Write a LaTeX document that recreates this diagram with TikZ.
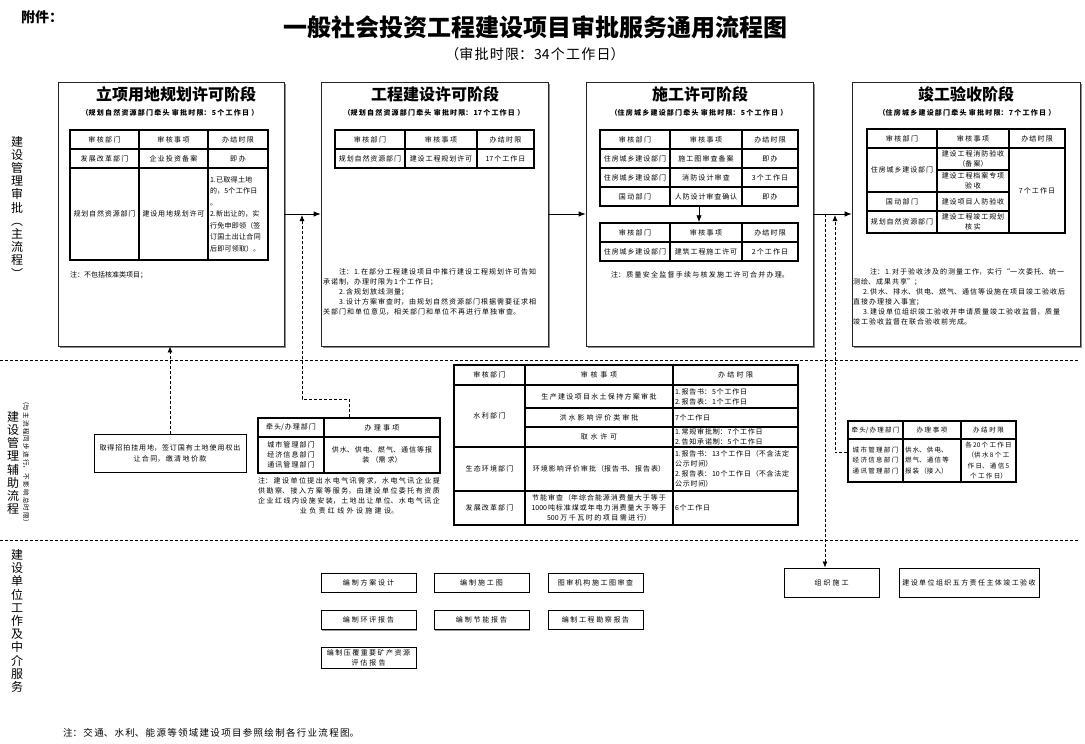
\documentclass[tikz,border=0pt]{standalone}
\usepackage{fontspec}
\setmainfont{Noto Sans CJK SC}
\usepackage{tikz}
\usetikzlibrary{arrows.meta,shadows,fit}
\XeTeXlinebreaklocale "zh"
\XeTeXlinebreakskip=0pt plus 1pt

\newcommand{\cellfont}{\fontsize{7}{10}\selectfont\XeTeXlinebreakskip=0.8pt plus 0.5pt\relax}
\newcommand{\smallcellfont}{\fontsize{6.5}{10.2}\selectfont\XeTeXlinebreakskip=1.2pt plus 0.5pt\relax}
\newcommand{\notefont}{\fontsize{7}{10}\selectfont\XeTeXlinebreakskip=1pt plus 0.3pt\relax}
\newcommand{\spacedfont}{\fontsize{7}{10}\selectfont\XeTeXlinebreakskip=1.4pt plus 0.3pt\relax}
\newcommand{\landboxfont}{\fontsize{7}{11}\selectfont\XeTeXlinebreakskip=0.9pt plus 0.2pt\relax}
\newcommand{\subfont}{\fontsize{7}{9}\selectfont\bfseries\XeTeXlinebreakskip=0.9pt plus 0.2pt\relax}
\newcommand{\landfont}{\fontsize{7}{11.5}\selectfont\XeTeXlinebreakskip=0.3pt plus 0.2pt\relax}
\newcommand{\footfont}{\fontsize{9.5}{11}\selectfont\XeTeXlinebreakskip=1.3pt\relax}
\newcommand{\limitfont}{\fontsize{14}{16}\selectfont\XeTeXlinebreakskip=1.2pt\relax}
\newcommand{\sidefont}{\fontsize{6.5}{7}\selectfont\XeTeXlinebreakskip=1.3pt\relax}

\tikzset{
  stagebox/.style={draw=black!85, line width=0.8pt, fill=white,
    drop shadow={shadow xshift=1.5pt, shadow yshift=-1.5pt, fill=black!45, opacity=1}},
  stagetitle/.style={font=\fontsize{16}{18}\selectfont\bfseries, inner sep=0pt},
  stagesub/.style={font=\subfont, inner sep=0pt, text width=222pt, align=center},
  cell/.style={draw, line width=1.1pt, inner xsep=2pt, inner ysep=0.5pt, align=center, font=\cellfont},
  note/.style={font=\notefont, align=left, inner sep=0pt},
  auxbox/.style={draw, line width=0.9pt, fill=white, align=center, inner sep=2pt, font=\spacedfont,
    drop shadow={shadow xshift=1pt, shadow yshift=-1pt, fill=black!40, opacity=1}},
  workbox/.style={auxbox, minimum width=95pt, minimum height=19pt},
  lane/.style={densely dashed, line width=0.8pt},
  lanelabel/.style={font=\fontsize{12}{13.2}\selectfont, align=center, inner sep=0pt},
  mainarrow/.style={line width=0.8pt, -{Latex[length=7pt,width=5.5pt]}},
  auxarrow/.style={densely dashed, line width=0.8pt, -{Latex[length=6pt,width=5pt]}}
}

% table cell: [options]{name}{x1}{y1}{x2}{y2}{text}
\newcommand{\tcell}[7][]{%
  \pgfmathsetmacro{\cw}{#5-#3}%
  \pgfmathsetmacro{\ch}{#6-#4}%
  \pgfmathsetmacro{\tw}{#5-#3-4}%
  \node[cell, #1, minimum width=\cw pt, minimum height=\ch pt, text width=\tw pt] (#2) at ({(#3+#5)/2},{(#4+#6)/2}) {#7};%
}

\begin{document}
\begin{tikzpicture}[x=1pt, y=-1pt]
\useasboundingbox (0,0) rectangle (1085,744);
\fill[white] (0,0) rectangle (1085,744);

%%%%% Title %%%%%
\node[font=\fontsize{14}{16}\selectfont\bfseries] (annex) at (42,17) {附件：};
\node[font=\fontsize{24}{26}\selectfont\bfseries] (title) at (535,27) {一般社会投资工程建设项目审批服务通用流程图};
\node[font=\limitfont, text width=260pt, align=center] (limit) at (535,54) {（审批时限：34个工作日）};

%%%%% Lanes %%%%%
\draw[lane] (0,360) -- (1078,360);
\draw[lane] (0,540) -- (1078,540);
\node[lanelabel] (lane1) at (17,207) {建\\设\\管\\理\\审\\批\\︵\\主\\流\\程\\︶};
\node[lanelabel] (lane2) at (13,463) {建\\设\\管\\理\\辅\\助\\流\\程};
\node[font=\sidefont, text width=135pt, align=center, rotate=-90, inner sep=0pt] (lane2n) at (26,462) {（与主流程同步进行，不影响总时限）};
\node[lanelabel] (lane3) at (17,621) {建\\设\\单\\位\\工\\作\\及\\中\\介\\服\\务};

%%%%% Stage boxes %%%%%
\node[stagebox, minimum width=226pt, minimum height=264pt] (s1) at (171,214) {};
\node[stagebox, minimum width=227pt, minimum height=264pt] (s2) at (434.5,214) {};
\node[stagebox, minimum width=227pt, minimum height=264pt] (s3) at (699.5,214) {};
\node[stagebox, minimum width=228pt, minimum height=264pt] (s4) at (966,214) {};

\node[stagetitle] (s1t) at (176,94) {立项用地规划许可阶段};
\node[stagetitle] (s2t) at (435,94) {工程建设许可阶段};
\node[stagetitle] (s3t) at (700,94) {施工许可阶段};
\node[stagetitle] (s4t) at (966,94) {竣工验收阶段};
\node[stagesub] (s1s) at (170,113) {（规划自然资源部门牵头 审批时限：5个工作日 ）};
\node[stagesub] (s2s) at (434,113) {（规划自然资源部门牵头 审批时限：17个工作日 ）};
\node[stagesub] (s3s) at (699,113) {（住房城乡建设部门牵头 审批时限：5个工作日 ）};
\node[stagesub] (s4s) at (967,113) {（住房城乡建设部门牵头 审批时限：7个工作日 ）};

% stage 1
\tcell{ta11}{70}{130}{139}{149}{审核部门}
\tcell{ta12}{139}{130}{208}{149}{审核事项}
\tcell{ta13}{208}{130}{268}{149}{办结时限}
\tcell{ta21}{70}{149}{139}{168}{发展改革部门}
\tcell{ta22}{139}{149}{208}{168}{企业投资备案}
\tcell{ta23}{208}{149}{268}{168}{即办}
\tcell{ta31}{70}{168}{139}{260}{规划自然资源部门}
\tcell{ta32}{139}{168}{208}{260}{建设用地规划许可}
\tcell[align=left, font=\landfont]{ta33}{208}{168}{268}{260}{1.已取得土地\\的，5个工作日\\。\\2.新出让的，实\\行免申即领（签\\订国土出让合同\\后即可领取）。}
\node[note, anchor=west] (na) at (70,275) {注：不包括核准类项目；};

% stage 2
\tcell{tb11}{335}{130}{405}{149}{审核部门}
\tcell{tb12}{405}{130}{477}{149}{审核事项}
\tcell{tb13}{477}{130}{534}{149}{办结时限}
\tcell{tb21}{335}{149}{405}{168}{规划自然资源部门}
\tcell{tb22}{405}{149}{477}{168}{建设工程规划许可}
\tcell{tb23}{477}{149}{534}{168}{17个工作日}
\node[note, anchor=north west, text width=226pt] (nb) at (323,268) {\hspace*{16pt}注：1.在部分工程建设项目中推行建设工程规划许可告知\\承诺制，办理时限为1个工作日；\\\hspace*{16pt}2.含规划放线测量；\\\hspace*{16pt}3.设计方案审查时，由规划自然资源部门根据需要征求相\\关部门和单位意见，相关部门和单位不再进行单独审查。};

% stage 3
\tcell{tc11}{600}{130}{670}{149}{审核部门}
\tcell{tc12}{670}{130}{742}{149}{审核事项}
\tcell{tc13}{742}{130}{798}{149}{办结时限}
\tcell{tc21}{600}{149}{670}{168}{住房城乡建设部门}
\tcell{tc22}{670}{149}{742}{168}{施工图审查备案}
\tcell{tc23}{742}{149}{798}{168}{即办}
\tcell{tc31}{600}{168}{670}{187}{住房城乡建设部门}
\tcell{tc32}{670}{168}{742}{187}{消防设计审查}
\tcell{tc33}{742}{168}{798}{187}{3个工作日}
\tcell{tc41}{600}{187}{670}{206}{国动部门}
\tcell{tc42}{670}{187}{742}{206}{人防设计审查确认}
\tcell{tc43}{742}{187}{798}{206}{即办}
\tcell{td11}{600}{223}{670}{242}{审核部门}
\tcell{td12}{670}{223}{742}{242}{审核事项}
\tcell{td13}{742}{223}{798}{242}{办结时限}
\tcell{td21}{600}{242}{670}{261}{住房城乡建设部门}
\tcell{td22}{670}{242}{742}{261}{建筑工程施工许可}
\tcell{td23}{742}{242}{798}{261}{2个工作日}
\node[fit=(tc11)(tc43), inner sep=0pt] (tc) {};
\node[fit=(td11)(td23), inner sep=0pt] (td) {};
\draw[mainarrow] (tc.south) -- (td.north);
\node[note, text width=200pt, align=center] (nc) at (700,275) {注：质量安全监督手续与核发施工许可合并办理。};

% stage 4
\tcell{te11}{867}{129}{937}{148}{审核部门}
\tcell{te12}{937}{129}{1009}{148}{审核事项}
\tcell{te13}{1009}{129}{1065}{148}{办结时限}
\tcell{te21}{867}{148}{937}{192}{住房城乡建设部门}
\tcell{te22}{937}{148}{1009}{170}{建设工程消防验收\\（备案）}
\tcell{te32}{937}{170}{1009}{192}{建设工程档案专项\\验收}
\tcell{te41}{867}{192}{937}{211}{国动部门}
\tcell{te42}{937}{192}{1009}{211}{建设项目人防验收}
\tcell{te51}{867}{211}{937}{233}{规划自然资源部门}
\tcell{te52}{937}{211}{1009}{233}{建设工程竣工规划\\核实}
\tcell{te23}{1009}{148}{1065}{233}{7个工作日}
\node[note, anchor=north west, text width=226pt] (nd) at (853,268) {\hspace*{17pt}注：1.对于验收涉及的测量工作，实行“一次委托、统一\\测绘、成果共享”；\\\hspace*{10pt}2.供水、排水、供电、燃气、通信等设施在项目竣工验收后\\直接办理接入事宜；\\\hspace*{10pt}3.建设单位组织竣工验收并申请质量竣工验收监督，质量\\竣工验收监督在联合验收前完成。};

%%%%% Main flow %%%%%
\draw[mainarrow] (s1.east) -- (s2.west);
\draw[mainarrow] (s2.east) -- (s3.west);
\draw[mainarrow] (s3.east) -- (s4.west);
\coordinate (j12) at (302,214);
\coordinate (j34a) at (825,214);
\coordinate (j34b) at (835,214);

%%%%% Auxiliary flow %%%%%
\node[auxbox, font=\landboxfont, minimum width=152pt, minimum height=38pt, text width=146pt] (land) at (170,453) {取得招拍挂用地，签订国有土地使用权出\\让合同，缴清地价款};

\tcell{aa11}{258}{418}{324}{437}{牵头/办理部门}
\tcell{aa12}{324}{418}{440}{437}{办理事项}
\tcell{aa21}{258}{437}{324}{473}{城市管理部门\\经济信息部门\\通讯管理部门}
\tcell{aa22}{324}{437}{440}{473}{供水、供电、燃气、通信等报\\装（需求）}
\node[fit=(aa11)(aa22), inner sep=0pt] (aa) {};
\node[note, font=\spacedfont, align=center, text width=186pt, anchor=north] (aan) at (349,477) {注：建设单位提出水电气讯需求，水电气讯企业提\\供勘察、接入方案等服务，由建设单位委托有资质\\企业红线内设施安装，土地出让单位、水电气讯企\\业负责红线外设施建设。};

\tcell{aw11}{454}{365}{525}{385}{审核部门}
\tcell{aw12}{525}{365}{673}{385}{审核事项}
\tcell{aw13}{673}{365}{798}{385}{办结时限}
\tcell{aw21}{454}{385}{525}{447}{水利部门}
\tcell{aw22}{525}{385}{673}{408}{生产建设项目水土保持方案审批}
\tcell[align=left]{aw23}{673}{385}{798}{408}{1.报告书：5个工作日\\2.报告表：1个工作日}
\tcell{aw32}{525}{408}{673}{427}{洪水影响评价类审批}
\tcell[align=left]{aw33}{673}{408}{798}{427}{7个工作日}
\tcell{aw42}{525}{427}{673}{447}{取水许可}
\tcell[align=left]{aw43}{673}{427}{798}{447}{1.常规审批制：7个工作日\\2.告知承诺制：5个工作日}
\tcell{aw51}{454}{447}{525}{491}{生态环境部门}
\tcell{aw52}{525}{447}{673}{491}{环境影响评价审批（报告书、报告表）}
\tcell[align=left]{aw53}{673}{447}{798}{491}{1.报告书：13个工作日（不含法定\\公示时间）\\2.报告表：10个工作日（不含法定\\公示时间）}
\tcell{aw61}{454}{491}{525}{525}{发展改革部门}
\tcell{aw62}{525}{491}{673}{525}{节能审查（年综合能源消费量大于等于\\1000吨标准煤或年电力消费量大于等于\\500万千瓦时的项目需进行）}
\tcell[align=left]{aw63}{673}{491}{798}{525}{6个工作日}

\tcell[font=\smallcellfont]{ar11}{848}{421}{903}{439}{牵头/办理部门}
\tcell[font=\smallcellfont]{ar12}{903}{421}{961}{439}{办理事项}
\tcell[font=\smallcellfont]{ar13}{961}{421}{1016}{439}{办结时限}
\tcell[font=\smallcellfont]{ar21}{848}{439}{903}{482}{城市管理部门\\经济信息部门\\通讯管理部门}
\tcell[font=\smallcellfont, align=left]{ar22}{903}{439}{961}{482}{供水、供电、\\燃气、通信等\\报装（接入）}
\tcell[font=\smallcellfont]{ar23}{961}{439}{1016}{482}{各20个工作日\\（供水8个工\\作日、通信5\\个工作日）}

\draw[auxarrow] (land.north) -- (land.north |- s1.south);
\draw[auxarrow] (aa.north) -- ++(0,-18) -| ([yshift=-1pt]j12);
\draw[auxarrow] ([yshift=8pt]ar21.west) -| ([yshift=-1pt]j34b);

%%%%% Builder and agencies %%%%%
\foreach \n/\x/\y/\t in {k1/368.5/582.5/编制方案设计, k2/481.5/582.5/编制施工图, k3/595.5/582.5/图审机构施工图审查, k4/368.5/620/编制环评报告, k5/481.5/620/编制节能报告, k6/595.5/619.5/编制工程勘察报告}{
\node[workbox, text width=90pt] (\n) at (\x,\y) {\t};
}
\node[workbox, text width=90pt, minimum height=20pt] (k7) at (368.5,658) {编制压覆重要矿产资源\\评估报告};
\node[auxbox, minimum width=95pt, minimum height=29pt, text width=90pt] (build) at (831.5,582.5) {组织施工};
\node[auxbox, minimum width=140pt, minimum height=29pt, text width=135pt] (accept) at (969,582.5) {建设单位组织五方责任主体竣工验收};
\draw[auxarrow] (j34a) -- (j34a |- build.north);

\node[anchor=west, font=\footfont, text width=330pt, align=left, inner sep=0pt] (foot) at (63,733) {注：交通、水利、能源等领域建设项目参照绘制各行业流程图。};

\end{tikzpicture}
\end{document}
